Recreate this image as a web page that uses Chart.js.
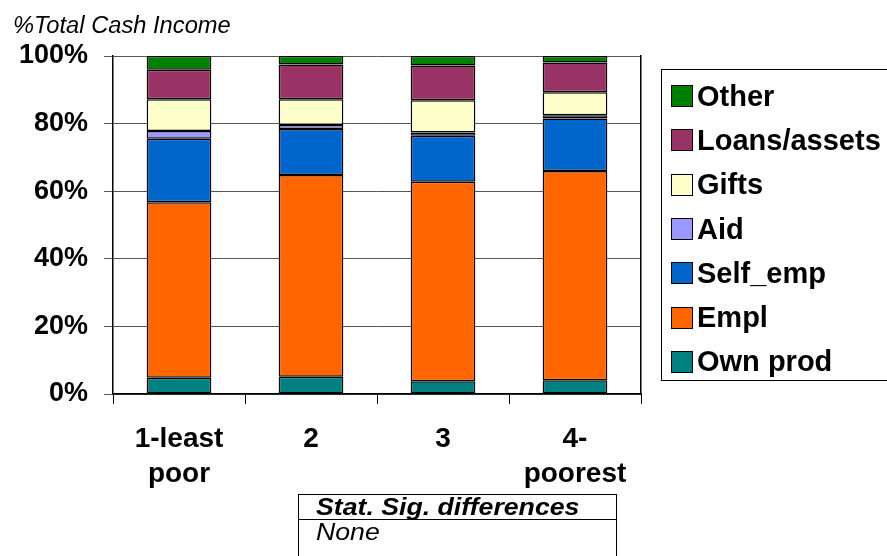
<!DOCTYPE html>
<html>
<head>
<meta charset="utf-8">
<script src="https://cdn.jsdelivr.net/npm/chart.js@4.4.0/dist/chart.umd.min.js"></script>
<style>
  body { margin: 0; background: #fff; font-family: "Liberation Sans", Arial, sans-serif; }
  #wrap { position: relative; width: 887px; height: 556px; overflow: hidden; }
  #titulo { position: absolute; left: 13px; top: 12px; font-size: 23px; font-style: italic; line-height: 26px; transform: scaleX(1.03); transform-origin: left top; white-space: nowrap; }
  #legenda { position: absolute; left: 661px; top: 69px; width: 240px; height: 312px; border: 1px solid #000; padding-top: 4px; box-sizing: border-box; }
  .item { height: 44.3px; display: flex; align-items: center; font-size: 29px; font-weight: bold; white-space: nowrap; }
  .cor { width: 22px; height: 22px; border: 1px solid #000; margin-left: 9px; margin-right: 4px; box-sizing: border-box; flex: none; }
  #tabela { position: absolute; left: 298px; top: 494px; width: 317px; height: 80px; border: 1px solid #000; font-size: 23px; font-style: italic; }
  #tabela div { padding-left: 17px; height: 24px; line-height: 25px; white-space: nowrap; }
  #tabela span { display: inline-block; transform: scaleX(1.16); transform-origin: left center; }
  #tabela .cab { font-weight: bold; border-bottom: 1px solid #000; }
</style>
</head>
<body>
<div id="wrap">
  <canvas id="grafico" width="887" height="556"></canvas>
  <div id="titulo">%Total Cash Income</div>
  <div id="legenda"></div>
  <div id="tabela">
    <div class="cab"><span>Stat. Sig. differences</span></div>
    <div><span>None</span></div>
  </div>
</div>
<script>
// grupos de pobreza
var grupos = [['1-least', 'poor'], '2', '3', ['4-', 'poorest']];

// % da renda em dinheiro, de baixo para cima
var ownProd = [4.8, 5.1, 3.8, 4.1];
var empl = [51.9, 59.7, 59.0, 61.9];
var selfEmp = [18.8, 13.6, 13.6, 15.5];
var aid = [2.3, 1.2, 1.0, 1.0];
var gifts = [9.4, 7.6, 9.5, 6.8];
var loans = [8.7, 10.3, 10.3, 8.8];
var other = [4.1, 2.5, 2.8, 1.9];

var yTicks = [0, 20, 40, 60, 80, 100];

var series = [
  { label: 'Own prod', data: ownProd, backgroundColor: '#008080' },
  { label: 'Empl', data: empl, backgroundColor: '#FF6600' },
  { label: 'Self_emp', data: selfEmp, backgroundColor: '#0066CC' },
  { label: 'Aid', data: aid, backgroundColor: '#9999FF' },
  { label: 'Gifts', data: gifts, backgroundColor: '#FFFFCC' },
  { label: 'Loans/assets', data: loans, backgroundColor: '#993366' },
  { label: 'Other', data: other, backgroundColor: '#008000' }
];

series.forEach(function (s) {
  s.borderColor = '#000';
  s.borderWidth = 1.5;
  s.borderSkipped = false;
  s.barPercentage = 0.49;
  s.categoryPercentage = 1.0;
});

// legenda em html, ordem invertida como no original
var legenda = document.getElementById('legenda');
series.slice().reverse().forEach(function (s) {
  var item = document.createElement('div');
  item.className = 'item';
  item.innerHTML = '<span class="cor" style="background:' + s.backgroundColor + '"></span>' + s.label;
  legenda.appendChild(item);
});

var ctx = document.getElementById('grafico').getContext('2d');
var grafico = new Chart(ctx, {
  type: 'bar',
  data: { labels: grupos, datasets: series },
  options: {
    responsive: false,
    animation: false,
    devicePixelRatio: 1,
    layout: { padding: { left: 0, right: 246, top: 56, bottom: 0 } },
    plugins: {
      legend: { display: false },
      tooltip: { enabled: false }
    },
    scales: {
      x: {
        stacked: true,
        offset: true,
        grid: { display: true, drawOnChartArea: false, drawTicks: true, tickLength: 10, color: '#000' },
        border: { color: '#000', width: 1.5 },
        ticks: {
          color: '#000',
          padding: 17,
          maxRotation: 0,
          font: { family: '"Liberation Sans", Arial', size: 28, weight: 'bold', lineHeight: 1.28 }
        },
        afterFit: function (scale) { scale.height = 162; }
      },
      y: {
        stacked: true,
        min: 0,
        max: 100,
        afterBuildTicks: function (scale) {
          scale.ticks = yTicks.map(function (v) { return { value: v }; });
        },
        grid: { color: '#555', lineWidth: 1, tickLength: 9 },
        border: { color: '#000', width: 1.5 },
        ticks: {
          color: '#000',
          padding: 16,
          callback: function (v) { return v + '%'; },
          font: { family: '"Liberation Sans", Arial', size: 27, weight: 'bold' }
        },
        afterFit: function (scale) { scale.width = 113; }
      },
      y2: {
        position: 'right',
        min: 0,
        max: 100,
        grid: { display: false, drawTicks: false },
        ticks: { display: false },
        border: { display: true, color: '#000', width: 1.5 },
        afterFit: function (scale) { scale.width = 0; }
      }
    }
  }
});
</script>
</body>
</html>
